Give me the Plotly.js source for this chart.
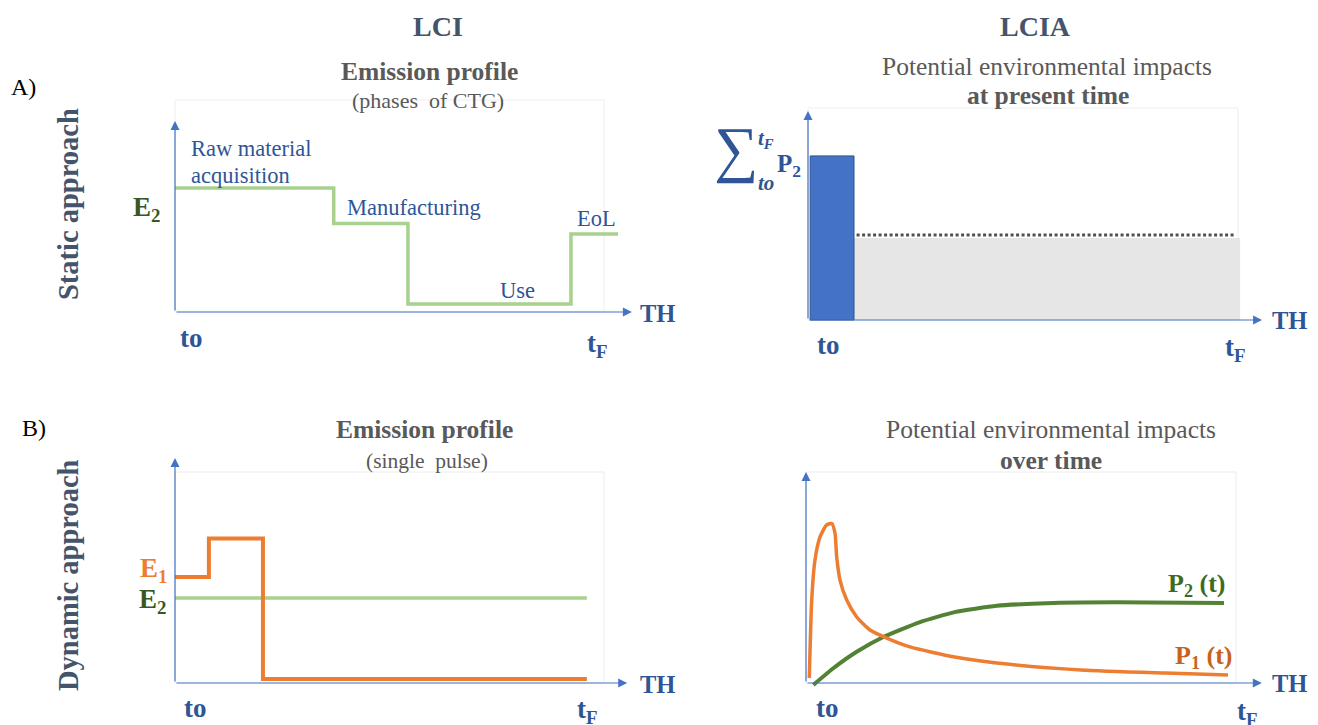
<!DOCTYPE html>
<html><head><meta charset="utf-8">
<script src="https://cdn.plot.ly/plotly-3.0.1.min.js"></script>
<style>html,body{margin:0;padding:0;background:#fff}#chart{width:1318px;height:725px}</style>
</head><body><div id="chart"></div>
<script>
// ---------------- data (time 0..100 = t0..tF box, value 0..100) ----------------
const staticPhases = ['Raw material acquisition', 'Manufacturing', 'Use', 'EoL'];
const staticPhaseEnd = [37.0, 54.3, 92.3, 103.3];
const staticPhaseLevel = [58.5, 41.8, 3.8, 36.8];

const presentBarSpan = [0.5, 10.7];
const presentBarValue = 77.4;           // sum of P2 from t0 to tF
const remainderSpan = [10.7, 100.5];
const remainderValue = 38.7;
const dottedSpan = [11.3, 99.3];
const dottedValue = 40.1;

const pulseTimes = [0, 7.9, 20.5, 96.0];
const pulseE1 = [50.2, 68.5, 1.9];
const pulseE2 = 40.3;

const p1Time = [0.77, 1.33, 2.09, 3.26, 4.81, 5.98, 6.74, 7.14, 7.91, 9.47, 11.79, 14.88, 18.77, 24.19, 34.56, 44.35, 63.95, 83.49, 98.14];
const p1Value = [2.4, 39.3, 58.3, 69.2, 74.9, 75.6, 71.1, 59.7, 48.8, 39.3, 31.3, 25.1, 21.3, 17.1, 12.3, 9.5, 6.2, 4.7, 3.8];
const p2Time = [1.70, 6.35, 11.79, 17.98, 26.51, 34.56, 44.35, 54.19, 63.95, 80.0, 97.21];
const p2Value = [-0.9, 7.0, 14.8, 21.8, 28.9, 33.6, 36.6, 37.7, 38.2, 38.2, 37.9];

// ---------------- layout helpers ----------------
const W = 1318, H = 725;
const SERIF = 'Liberation Serif';
const BLUE_TXT = '#2f5597', AX = '#4472c4', SLATE = '#44546a', GREY = '#595959';
const LGREEN = '#a9d18e', DGREEN = '#548235', ORANGE = '#ed7d31';

function panel(ox, oy, bx, by, L, R, T, B) {
  const xu = (bx - ox) / 100, yu = (oy - by) / 100;
  return {
    domX: [L / W, R / W], domY: [1 - B / H, 1 - T / H],
    rx: [(L - ox) / xu, (R - ox) / xu], ry: [(oy - B) / yu, (oy - T) / yu]
  };
}
const panels = [
  panel(175, 312, 604, 100, 165, 642, 95, 322),
  panel(808, 320, 1238, 108, 798, 1272, 100, 330),
  panel(175, 683, 604, 472, 165, 642, 450, 694),
  panel(806, 683, 1236, 472, 796, 1272, 465, 694)
];
const arrowTips = [[106.5, 90.1], [105.6, 98.6], [105.4, 106.6], [106.0, 100.0]];

const layout = {
  width: W, height: H, margin: {l: 0, r: 0, t: 0, b: 0},
  paper_bgcolor: '#fff', plot_bgcolor: 'rgba(0,0,0,0)',
  font: {family: SERIF},
  showlegend: false, barmode: 'overlay',
  annotations: [], shapes: []
};
panels.forEach((p, i) => {
  const n = i === 0 ? '' : String(i + 1);
  layout['xaxis' + n] = {domain: p.domX, range: p.rx, visible: false, fixedrange: true, anchor: 'y' + n};
  layout['yaxis' + n] = {domain: p.domY, range: p.ry, visible: false, fixedrange: true, anchor: 'x' + n};
  const xr = 'x' + n, yr = 'y' + n;
  layout.shapes.push({type: 'rect', xref: xr, yref: yr, x0: 0, y0: 0, x1: 100, y1: 100,
    line: {color: '#ededed', width: 1}, layer: 'below'});
  const tip = arrowTips[i];
  [[tip[0], 0], [0, tip[1]]].forEach(t => {
    layout.annotations.push({xref: xr, yref: yr, axref: xr, ayref: yr, x: t[0], y: t[1], ax: 0, ay: 0,
      text: '', showarrow: true, arrowhead: 2, arrowsize: 1.5, arrowwidth: 1.2, arrowcolor: AX, standoff: 0, startstandoff: 0});
  });
});

function T(text, px, py, size, color, extra) {
  layout.annotations.push(Object.assign({
    xref: 'paper', yref: 'paper', x: px / W, y: 1 - py / H, text: text, showarrow: false,
    font: {family: SERIF, size: size, color: color}, xanchor: 'center', yanchor: 'middle'
  }, extra || {}));
}
// headers
T('<b>LCI</b>', 438, 26, 28, SLATE);
T('<b>LCIA</b>', 1035, 26, 28, SLATE);
T('A)', 23, 87, 24, '#000');
T('B)', 34, 428, 24, '#000');
T('<b>Static approach</b>', 68, 204, 28.5, SLATE, {textangle: -90});
T('<b>Dynamic approach</b>', 68, 575, 28.5, SLATE, {textangle: -90});
// panel titles
T('<b>Emission profile</b>', 429, 72, 25.5, GREY);
T('(phases  of CTG)', 428, 100, 22, GREY);
T('Potential environmental impacts', 1047, 66, 25.5, GREY);
T('<b>at present time</b>', 1048, 96, 25.5, GREY);
T('<b>Emission profile</b>', 425, 429, 25.5, GREY);
T('(single  pulse)', 427, 461, 21.5, GREY);
T('Potential environmental impacts', 1051, 429, 25.5, GREY);
T('<b>over time</b>', 1051, 460, 25.5, GREY);
// phase labels
T('Raw material', 189, 148, 22.5, BLUE_TXT, {xanchor: 'left'});
T('acquisition', 189, 175, 22.5, BLUE_TXT, {xanchor: 'left'});
T(staticPhases[1], 345, 207, 22.5, BLUE_TXT, {xanchor: 'left'});
T(staticPhases[2], 517, 291, 22.5, BLUE_TXT);
T(staticPhases[3], 596, 218, 22.5, BLUE_TXT);
// axis labels
[[191, 338, 597, 345, 657, 313], [828, 345, 1235, 349, 1289, 320],
 [195, 708, 587, 711, 657, 684], [827, 708, 1247, 713, 1289, 683]].forEach(a => {
  T('<b>to</b>', a[0], a[1], 27, BLUE_TXT);
  T('<b>t<sub>F</sub></b>', a[2], a[3], 27, BLUE_TXT);
  T('<b>TH</b>', a[4], a[5], 24.5, BLUE_TXT);
});
T('<b>E<sub>2</sub></b>', 162, 209, 27, '#385723', {xanchor: 'right'});
T('<b>E<sub>1</sub></b>', 169, 570, 27, ORANGE, {xanchor: 'right'});
T('<b>E<sub>2</sub></b>', 168, 601, 27, '#385723', {xanchor: 'right'});
// sum label
T('\u2211', 736, 150, 62, BLUE_TXT);
T('<b><i>t<sub>F</sub></i></b>', 766, 139, 21, BLUE_TXT);
T('<b><i>to</i></b>', 766, 183, 21, BLUE_TXT);
T('<b>P<sub>2</sub></b>', 789, 165, 25, BLUE_TXT);
// curve labels
T('<b>P<sub>2</sub> (t)</b>', 1196, 585, 26, '#3d6b23');
T('<b>P<sub>1</sub> (t)</b>', 1203, 657, 26, '#c8621c');

// ---------------- traces ----------------
const traces = [];
// A-left : static emission profile (phases)
(function () {
  const x = [0], y = [staticPhaseLevel[0]];
  staticPhaseEnd.forEach((e, i) => {
    x.push(e); y.push(staticPhaseLevel[i]);
    if (i < staticPhaseEnd.length - 1) { x.push(e); y.push(staticPhaseLevel[i + 1]); }
  });
  traces.push({type: 'scatter', mode: 'lines', x: x, y: y, xaxis: 'x', yaxis: 'y',
    line: {color: LGREEN, width: 3.5}, hoverinfo: 'skip'});
})();
// A-right : impacts at present time
traces.push({type: 'bar', xaxis: 'x2', yaxis: 'y2',
  x: [(remainderSpan[0] + remainderSpan[1]) / 2], width: [remainderSpan[1] - remainderSpan[0]],
  y: [remainderValue], marker: {color: '#e7e6e6', line: {width: 0}}, hoverinfo: 'skip'});
traces.push({type: 'bar', xaxis: 'x2', yaxis: 'y2',
  x: [(presentBarSpan[0] + presentBarSpan[1]) / 2], width: [presentBarSpan[1] - presentBarSpan[0]],
  y: [presentBarValue], marker: {color: '#4472c4', line: {color: '#2f528f', width: 1}}, hoverinfo: 'skip'});
traces.push({type: 'scatter', mode: 'lines', xaxis: 'x2', yaxis: 'y2',
  x: dottedSpan, y: [dottedValue, dottedValue],
  line: {color: '#505050', width: 3, dash: '3px,2.5px'}, hoverinfo: 'skip'});
// B-left : single pulse
(function () {
  const x = [], y = [];
  pulseE1.forEach((v, i) => { x.push(pulseTimes[i], pulseTimes[i + 1]); y.push(v, v); });
  traces.push({type: 'scatter', mode: 'lines', xaxis: 'x3', yaxis: 'y3',
    x: [pulseTimes[0], pulseTimes[pulseTimes.length - 1]], y: [pulseE2, pulseE2],
    line: {color: LGREEN, width: 3.5}, hoverinfo: 'skip'});
  traces.push({type: 'scatter', mode: 'lines', xaxis: 'x3', yaxis: 'y3', x: x, y: y,
    line: {color: ORANGE, width: 4}, hoverinfo: 'skip'});
})();
// B-right : impacts over time
traces.push({type: 'scatter', mode: 'lines', xaxis: 'x4', yaxis: 'y4', x: p2Time, y: p2Value,
  line: {color: DGREEN, width: 4, shape: 'spline', smoothing: 0.5}, hoverinfo: 'skip'});
traces.push({type: 'scatter', mode: 'lines', xaxis: 'x4', yaxis: 'y4', x: p1Time, y: p1Value,
  line: {color: ORANGE, width: 3.5, shape: 'spline', smoothing: 0.6}, hoverinfo: 'skip'});

Plotly.newPlot('chart', traces, layout, {staticPlot: true, displayModeBar: false});
</script>
</body></html>
